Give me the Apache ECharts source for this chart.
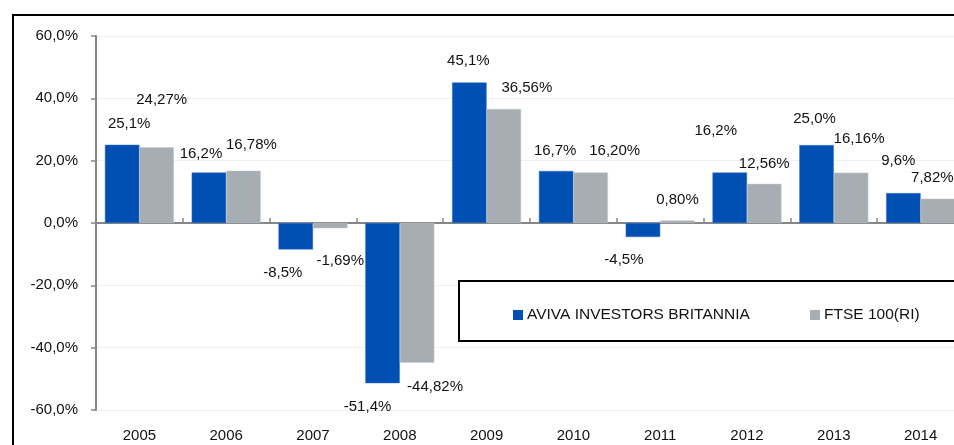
<!DOCTYPE html>
<html>
<head>
<meta charset="utf-8">
<script src="https://cdn.jsdelivr.net/npm/echarts@6/dist/echarts.min.js"></script>
<style>
html,body{margin:0;padding:0;background:#fff;overflow:hidden;width:954px;height:445px;}
#c{width:990px;height:445px;}
</style>
</head>
<body>
<div id="c"></div>
<script>
const years = ['2005','2006','2007','2008','2009','2010','2011','2012','2013','2014'];
const aviva = [25.1, 16.2, -8.5, -51.4, 45.1, 16.7, -4.5, 16.2, 25.0, 9.6];
const ftse = [24.27, 16.78, -1.69, -44.82, 36.56, 16.20, 0.80, 12.56, 16.16, 7.82];
const yTicks = [-60, -40, -20, 0, 20, 40, 60];
const seriesNames = ['AVIVA INVESTORS BRITANNIA', 'FTSE 100(RI)'];

// label nudges (pixels) relative to the default outside position
const avivaLabelShift = [[7,-8],[-8,-6],[-13,11],[-15,11],[-1,-9],[-1,-7.5],[-19,10],[-14,-29],[-2,-13.5],[-5,-20]];
const ftseLabelShift = [[5,-35],[8,-13],[10,20],[18,12],[23,-8.5],[24,-9],[0,-8],[0,-7],[8,-21],[-5.5,-8]];

const FONT = 'Liberation Sans';
const TXT = '#111';

function comma(v, d) { return v.toFixed(d).replace('.', ',') + '%'; }

function mkData(vals, shifts, dec) {
  return vals.map((v, i) => ({
    value: v,
    label: {
      position: v >= 0 ? 'top' : 'bottom',
      offset: shifts[i],
      formatter: () => comma(v, dec)
    }
  }));
}

const chart = echarts.init(document.getElementById('c'), null, {renderer: 'canvas'});
chart.setOption({
  animation: false,
  backgroundColor: '#fff',
  textStyle: {fontFamily: FONT},
  grid: {left: 96, top: 36, width: 868, height: 374, containLabel: false},
  graphic: [
    {type: 'rect', shape: {x: 13, y: 15, width: 1000, height: 500}, style: {fill: 'none', stroke: '#000', lineWidth: 2}, z: 0},
    {type: 'rect', shape: {x: 459, y: 281, width: 600, height: 60}, style: {fill: '#fff', stroke: '#000', lineWidth: 2}, z: 10}
  ],
  legend: [
    {data: [seriesNames[0]], left: 513, top: 307, padding: 0, itemWidth: 10, itemHeight: 10, itemGap: 0, z: 20,
     itemStyle: {borderWidth: 0},
     textStyle: {fontFamily: FONT, fontSize: 15.5, color: TXT, padding: [0, 0, 0, -1]}, icon: 'rect'},
    {data: [seriesNames[1]], left: 810, top: 307, padding: 0, itemWidth: 10, itemHeight: 10, itemGap: 0, z: 20,
     itemStyle: {borderWidth: 0},
     textStyle: {fontFamily: FONT, fontSize: 15.5, color: TXT, padding: [0, 0, 0, -1]}, icon: 'rect'}
  ],
  xAxis: [
    {type: 'category', data: years, position: 'bottom',
     axisLine: {onZero: true, lineStyle: {color: '#878787', width: 2}},
     axisTick: {show: true, inside: true, length: 5, lineStyle: {color: '#878787', width: 1.5}},
     axisLabel: {show: false}, splitLine: {show: false}},
    {type: 'category', data: years, position: 'bottom', offset: 0,
     axisLine: {show: false, onZero: false}, axisTick: {show: false},
     axisLabel: {show: true, margin: 18, fontFamily: FONT, fontSize: 15, color: TXT}}
  ],
  yAxis: {
    type: 'value', min: yTicks[0], max: yTicks[yTicks.length - 1], interval: 20,
    axisLine: {show: true, lineStyle: {color: '#878787', width: 2}},
    axisTick: {show: true, length: 5, lineStyle: {color: '#878787', width: 1.5}},
    axisLabel: {margin: 18, fontFamily: FONT, fontSize: 15, color: TXT, formatter: v => comma(v, 1)},
    splitLine: {show: true, lineStyle: {color: '#f0f0f0', width: 1}}
  },
  series: [
    {name: seriesNames[0], type: 'bar', xAxisIndex: 0, data: mkData(aviva, avivaLabelShift, 1),
     barGap: '0%', barCategoryGap: '20.5%',
     itemStyle: {color: '#0050B4', borderColor: '#3a73c6', borderWidth: 0.5},
     label: {show: true, distance: 5, fontFamily: FONT, fontSize: 15, color: TXT}},
    {name: seriesNames[1], type: 'bar', xAxisIndex: 0, data: mkData(ftse, ftseLabelShift, 2),
     barGap: '0%', barCategoryGap: '20.5%',
     itemStyle: {color: '#A6AEB3', borderColor: '#c4cacd', borderWidth: 0.5},
     label: {show: true, distance: 5, fontFamily: FONT, fontSize: 15, color: TXT}}
  ]
});
</script>
</body>
</html>
